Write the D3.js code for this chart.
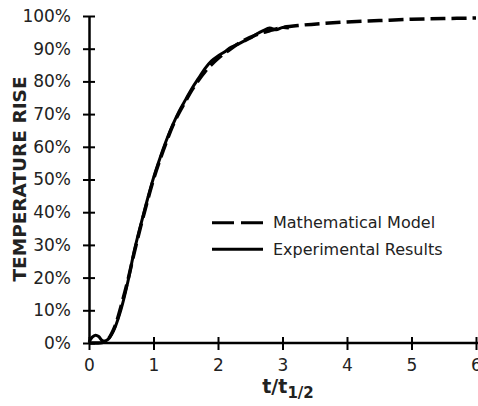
<!DOCTYPE html>
<html>
<head>
<meta charset="utf-8">
<script src="https://cdn.jsdelivr.net/npm/d3@7"></script>
<style>
  body { margin: 0; background: #fff; }
  svg { display: block; }
  text { font-family: "DejaVu Sans", Verdana, sans-serif; fill: #222; }
</style>
</head>
<body>
<div id="chart"></div>
<script>
// model curve (dashed)
const modelT = [0, 0.1, 0.2, 0.3, 0.4, 0.5, 0.6, 0.7, 0.8, 0.9, 1.0, 1.1, 1.2, 1.3, 1.4, 1.5, 1.6, 1.8, 2.0, 2.2, 2.4, 2.6, 2.8, 3.0, 3.3, 3.6, 4.0, 4.5, 5.0, 5.5, 6.0];
const modelRise = [0, 0, 0.1, 1.3, 5, 11.5, 19, 27.5, 35.5, 43, 50, 56, 61.5, 66.5, 70.5, 74, 77.5, 83, 87, 90, 92.5, 94.3, 95.5, 96.5, 97.2, 97.7, 98.2, 98.6, 99.0, 99.2, 99.4];

// experimental curve (solid)
const expT = [0, 0.05, 0.1, 0.15, 0.2, 0.25, 0.3, 0.35, 0.4, 0.5, 0.6, 0.7, 0.8, 0.9, 1.0, 1.1, 1.2, 1.3, 1.4, 1.5, 1.6, 1.7, 1.8, 1.9, 2.0, 2.1, 2.2, 2.3, 2.4, 2.5, 2.6, 2.7, 2.8, 2.9, 3.0, 3.1];
const expRise = [0.3, 1.8, 2.4, 2.0, 0.8, 0.6, 1.2, 2.6, 4.6, 10.5, 18.5, 28, 36, 43.5, 50.5, 56.5, 62, 66.8, 71, 74.5, 78, 81, 84, 86.3, 87.8, 89, 90.4, 91.3, 92.3, 93.2, 94.5, 95.5, 96.3, 95.8, 96.5, 96.3];

const xTicks = [0, 1, 2, 3, 4, 5, 6];
const yTicks = [0, 10, 20, 30, 40, 50, 60, 70, 80, 90, 100];
const legendLabels = ["Mathematical Model", "Experimental Results"];

const W = 478, H = 406;
const svg = d3.select("#chart").append("svg")
    .attr("width", W)
    .attr("height", H);

const x = d3.scaleLinear().domain([0, 6]).range([89, 476]);
const y = d3.scaleLinear().domain([0, 100]).range([343, 16]);

// axes
const yAxis = svg.append("g")
    .attr("transform", `translate(${x(0)},0)`)
    .call(d3.axisLeft(y).tickValues(yTicks).tickFormat(d => d + "%").tickSizeOuter(0).tickPadding(12));
const xAxis = svg.append("g")
    .attr("transform", `translate(0,${y(0)})`)
    .call(d3.axisBottom(x).tickValues(xTicks).tickFormat(d3.format("d")).tickSizeOuter(0).tickPadding(10));

yAxis.select(".domain").attr("stroke", "#000").attr("stroke-width", 2.5);
xAxis.select(".domain").attr("stroke", "#000").attr("stroke-width", 2.5)
    .attr("d", `M${x(0)},0H${W}`);
yAxis.selectAll(".tick line").attr("x1", -6).attr("x2", 6).attr("stroke", "#000").attr("stroke-width", 2);
xAxis.selectAll(".tick line").attr("y1", -6).attr("y2", 7).attr("stroke", "#000").attr("stroke-width", 2);
yAxis.selectAll(".tick text").attr("font-size", 17).attr("fill", "#222").attr("font-family", "DejaVu Sans, Verdana, sans-serif");
xAxis.selectAll(".tick text").attr("font-size", 17).attr("fill", "#222").attr("font-family", "DejaVu Sans, Verdana, sans-serif");

// curves
const line = d3.line()
    .x(d => x(d[0]))
    .y(d => y(d[1]))
    .curve(d3.curveCatmullRom);

svg.append("path")
    .datum(expT.map((t, i) => [t, expRise[i]]))
    .attr("d", line)
    .attr("fill", "none")
    .attr("stroke", "#000")
    .attr("stroke-width", 3);

svg.append("path")
    .datum(modelT.map((t, i) => [t, modelRise[i]]))
    .attr("d", line)
    .attr("fill", "none")
    .attr("stroke", "#000")
    .attr("stroke-width", 3.5)
    .attr("stroke-dasharray", "15,6");

// legend
const legend = svg.append("g");
legendLabels.forEach((label, i) => {
    const ly = 222.7 + i * 26.6;
    legend.append("line")
        .attr("x1", 212).attr("x2", 263)
        .attr("y1", ly).attr("y2", ly)
        .attr("stroke", "#000")
        .attr("stroke-width", 3)
        .attr("stroke-dasharray", i === 0 ? "22,7" : null);
    legend.append("text")
        .attr("x", 273)
        .attr("y", ly + 5.5)
        .attr("font-size", 16)
        .text(label);
});

// axis titles
svg.append("text")
    .attr("transform", `translate(26,179) rotate(-90)`)
    .attr("text-anchor", "middle")
    .attr("font-size", 18.5)
    .attr("font-weight", "bold")
    .text("TEMPERATURE RISE");

const xTitle = svg.append("text")
    .attr("x", 288)
    .attr("y", 393)
    .attr("text-anchor", "middle")
    .attr("font-weight", "bold")
    .attr("font-size", 19);
xTitle.append("tspan").text("t/t");
xTitle.append("tspan").attr("font-size", 15).attr("dy", 5).text("1/2");
</script>
</body>
</html>
